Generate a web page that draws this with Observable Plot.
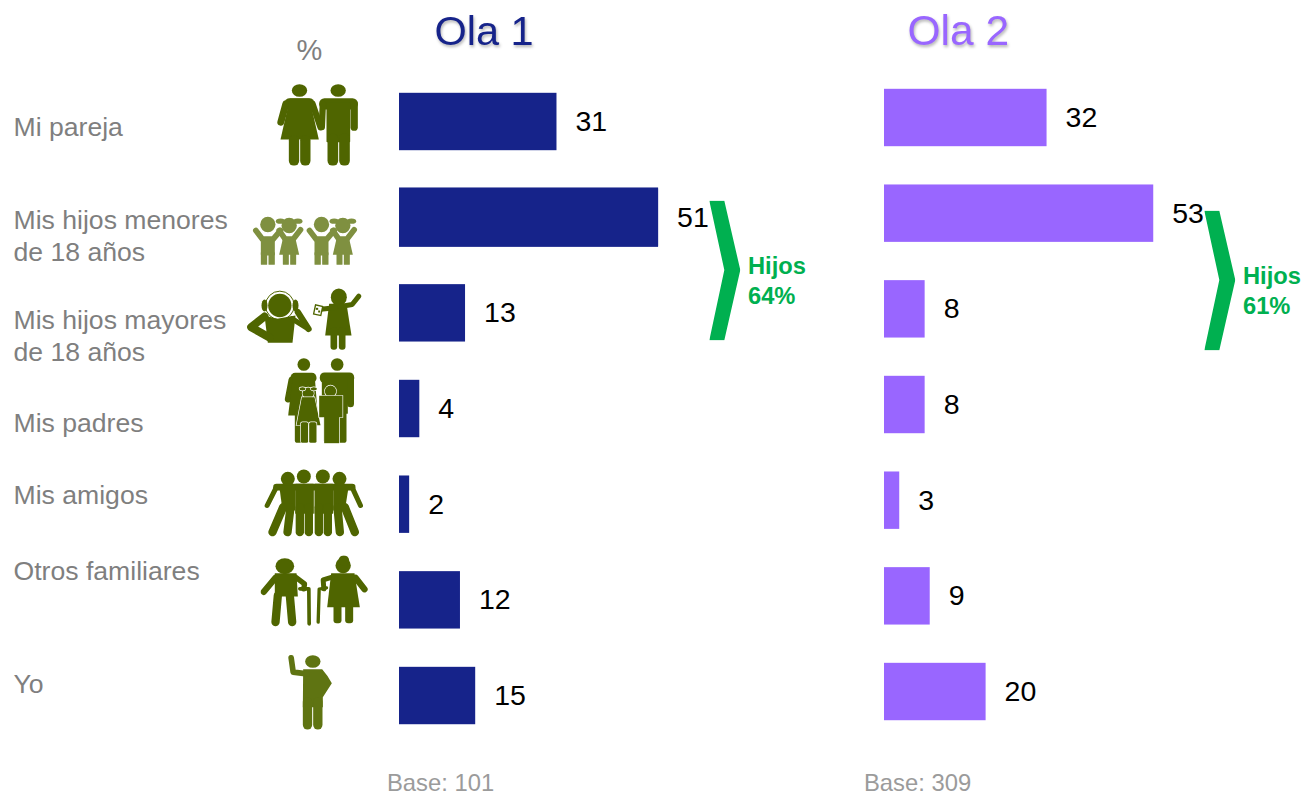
<!DOCTYPE html>
<html lang="es">
<head>
<meta charset="utf-8">
<script src="https://cdn.jsdelivr.net/npm/d3@7"></script>
<script src="https://cdn.jsdelivr.net/npm/@observablehq/plot@0.6"></script>
<style>
  html, body { margin: 0; padding: 0; background: #fff; }
  svg { display: block; }
  .title-shadow { filter: drop-shadow(1.5px 2px 1.5px rgba(0,0,0,.3)); }
</style>
</head>
<body>
<div id="chart"></div>
<script>
// ---- data ----
const categories = ["Mi pareja", "Mis hijos menores", "Mis hijos mayores", "Mis padres", "Mis amigos", "Otros familiares", "Yo"];
const rowLabels = ["Mi pareja", "Mis hijos menores\nde 18 años", "Mis hijos mayores\nde 18 años", "Mis padres", "Mis amigos", "Otros familiares", "Yo"];
const rowLabelShift = [3.5, 17.3, 21.7, 12.5, -10.7, -30.3, -13.5];
const ola1 = [31, 51, 13, 4, 2, 12, 15];
const ola2 = [32, 53, 8, 8, 3, 9, 20];
const hijosOla1 = "Hijos\n64%";
const hijosOla2 = "Hijos\n61%";
const base1 = "Base: 101";
const base2 = "Base: 309";

// ---- palette & layout ----
const navy = "#16238a", purple = "#9966ff", green = "#00b050", grey = "#7f7f7f", lightGrey = "#9b9b9b";
const olive = "#4f6500", oliveLight = "#7f9040", oliveMid = "#5f7412";
const panelShift = 485, panelRise = -4;
const pxZero = 399, pxPerUnit = 5.08;
const pxX = v => pxZero + pxPerUnit * v;
const rowY = i => 121.5 + 95.67 * i;
const font = "'Liberation Sans', Arial, sans-serif";

// ---- pictogram helpers (coordinates are in a 3x working grid) ----
const C = (x, y, r) => `<circle cx="${x}" cy="${y}" r="${r}"/>`;
const E = (x, y, rx, ry) => `<ellipse cx="${x}" cy="${y}" rx="${rx}" ry="${ry}"/>`;
const P = d => `<path d="${d}"/>`;
const L = (pts, w) => `<polyline points="${pts}" fill="none" stroke-width="${w}" stroke-linecap="round" stroke-linejoin="round"/>`;
const R = (x, y, w, h, r = 8) => `<rect x="${x}" y="${y}" width="${w}" height="${h}" rx="${r}"/>`;
const W = s => `<g stroke="#fff" stroke-width="4" paint-order="stroke">${s}</g>`;
const svgUri = (vb, color, body) => "data:image/svg+xml," + encodeURIComponent(
  `<svg xmlns="http://www.w3.org/2000/svg" viewBox="${vb[0]} ${vb[1]} ${vb[2] - vb[0]} ${vb[3] - vb[1]}" fill="${color}" stroke="${color}" stroke-width="0">${body}</svg>`);

const kidPair = s =>
  C(82 + s, 462, 23) + L(`${46 + s},480 ${66 + s},506 ${98 + s},506 ${120 + s},480`, 17) +
  R(61 + s, 500, 42, 55, 3) + R(61 + s, 545, 19, 38, 2) + R(84 + s, 545, 19, 38, 2) +
  C(146 + s, 465, 23) + E(120 + s, 452, 14, 8) + E(172 + s, 452, 14, 8) +
  L(`${116 + s},480 ${134 + s},506 ${158 + s},506 ${180 + s},478`, 17) +
  P(`M${128 + s} 500H${164 + s}L${176 + s} 553H${116 + s}Z`) + R(127 + s, 545, 18, 38, 2) + R(149 + s, 545, 18, 38, 2);

const icons = [
  { cat: 0, off: [240, 70], vb: [100, 35, 360, 290], color: olive, body:
    E(177, 60, 23, 19) + R(133, 83, 88, 30, 14) + L("136,100 121,155", 21) + L("216,100 240,170", 19) +
    P("M148 84H207L235 207H120Z") + R(145, 195, 31, 90, 14) + R(179, 195, 31, 90, 14) +
    E(293, 60, 23, 19) + R(236, 83, 116, 34, 16) + L("247,100 244,170", 19) + L("341,100 341,170", 22) +
    R(258, 95, 71, 120, 2) + R(261, 190, 32, 95, 14) + R(296, 190, 32, 95, 14) },
  { cat: 1, off: [240, 70], vb: [35, 435, 355, 585], color: oliveLight, body: kidPair(0) + kidPair(161) },
  { cat: 2, off: [240, 70], vb: [15, 650, 365, 845], color: olive, body:
    C(118, 705, 35) + `<circle cx="118" cy="705" r="43" fill="none" stroke-width="3"/>` +
    E(72, 705, 9, 18) + E(165, 705, 9, 18) +
    P("M72 735L110 745L165 735L156 817H82Z") + L("72,738 32,770 88,802", 24) + L("172,725 204,775", 19) + L("155,745 198,772", 16) +
    E(295, 680, 24, 26) + P("M266 700H318L333 795H254Z") + R(270, 770, 20, 68, 9) + R(295, 770, 20, 68, 9) +
    L("300,708 335,702 355,677", 15) + L("285,712 240,716", 15) +
    `<rect x="222" y="705" width="22" height="28" transform="rotate(12 232 719)" fill="#fff" stroke-width="4"/>` + R(226, 712, 7, 6, 0) + R(233, 720, 6, 6, 0) },
  { cat: 3, off: [240, 350], vb: [130, 20, 345, 280], color: olive, body:
    C(190, 42, 19) + C(290, 42, 19) + R(150, 67, 78, 30, 14) + L("154,88 143,146", 20) +
    P("M158 70H222L232 195H143Z") + R(163, 180, 26, 97, 8) +
    R(238, 66, 103, 32, 14) + L("330,85 330,160", 21) + R(244, 80, 78, 110, 2) + R(250, 180, 34, 97, 8) + R(288, 180, 30, 97, 8) +
    W(C(203, 128, 17) + E(186, 115, 9, 5) + E(220, 115, 9, 5) + P("M184 140H222L240 224H168Z") + R(181, 215, 22, 62, 5) + R(206, 215, 22, 62, 5) +
      C(270, 122, 17) + P("M236 136H306V200H296V278H251V200H236Z")) },
  { cat: 4, off: [240, 350], vb: [70, 355, 370, 560], color: olive, body:
    C(142, 385, 21) + C(190, 378, 21) + C(247, 378, 21) + C(297, 385, 21) +
    L("108,410 335,410", 20) + L("105,415 80,465", 15) + L("337,415 360,465", 15) +
    P("M116 405H164V480H126Z") + L("128,470 96,545", 25) + L("150,470 141,545", 25) +
    R(164, 400, 56, 90, 2) + L("178,470 178,545", 25) + L("205,470 205,545", 25) +
    R(222, 400, 56, 90, 2) + L("235,470 235,545", 25) + L("262,470 262,545", 25) +
    P("M278 405H325L313 480H278Z") + L("291,470 298,545", 25) + L("313,470 343,545", 25) },
  { cat: 5, off: [240, 350], vb: [60, 615, 385, 830], color: olive, body:
    E(133, 647, 28, 24) + P("M103 668H168L172 738H103Z") + L("112,735 105,815", 25) + L("148,735 155,815", 25) +
    L("105,682 70,724", 19) + L("165,680 192,700 190,715", 16) + L("178,715 205,715 206,820", 11) +
    C(308, 645, 23) + C(310, 630, 16) + P("M272 668H342L358 770H260Z") + L("345,682 372,716", 19) +
    L("275,680 248,688 250,715", 15) + L("258,712 236,716 233,815", 10) + R(279, 760, 24, 58, 9) + R(314, 760, 24, 58, 9) },
  { cat: 6, off: [240, 350], vb: [135, 910, 280, 1140], color: oliveMid, body:
    E(217, 933, 23, 19) + P("M188 956H245Q262 975 274 998L247 1040V1070H187Z") + L("152,922 158,965 200,970", 17) +
    R(187, 1040, 28, 97, 14) + R(218, 1040, 28, 97, 14) }
];

const chevronSrc = svgUri([0, 0, 31, 140], green, `<polygon points="0,0.3 15,0.3 31,69.5 15,139.7 0,139.7 15,69.5"/>`);

// ---- marks ----
const iconColumn = -16;
const iconMarks = icons.map(ic => {
  const [a, b, c, d] = ic.vb;
  const cx = ic.off[0] + (a + c) / 6, cy = ic.off[1] + (b + d) / 6;
  return Plot.image([categories[ic.cat]], {
    x: () => iconColumn, y: d => d,
    src: svgUri(ic.vb, ic.color, ic.body),
    width: (c - a) / 3, height: (d - b) / 3,
    dx: cx - pxX(iconColumn), dy: cy - rowY(ic.cat)
  });
});

const labelMarks = rowLabels.map((t, i) => Plot.text([t], {
  x: () => (14 - pxZero) / pxPerUnit, y: () => categories[i], text: d => d,
  textAnchor: "start", dx: -1, dy: rowLabelShift[i], fontSize: 26.6, lineHeight: 32 / 26.6,
  fill: grey, fontFamily: font
}));

const rows = v => v.map((value, i) => ({ cat: categories[i], value }));

function panel(values, color, shift, rise, tallRow) {
  const data = rows(values);
  return [
    Plot.barX(data, { x: "value", y: "cat", fill: color, dx: shift, dy: rise }),
    ...(tallRow ? [Plot.barX(data.filter(d => d.cat === tallRow), { x: "value", y: "cat", fill: color, dx: shift, dy: rise, insetTop: -1, insetBottom: -1 })] : []),
    Plot.text(data, { x: "value", y: "cat", text: d => String(d.value), textAnchor: "start",
      dx: shift + 18.5, dy: rise, fontSize: 28.5, fill: "#000", fontFamily: font })
  ];
}

const plot = Plot.plot({
  width: 1304, height: 796,
  margin: 0,
  style: { background: "#fff", fontFamily: font },
  x: { domain: [0, 100], range: [pxX(0), pxX(100)], axis: null },
  y: { type: "band", domain: categories, range: [rowY(0) - 47.835, rowY(6) + 47.835],
       paddingInner: 0.4, paddingOuter: 0.2, round: false, axis: null },
  marks: [
    ...panel(ola1, navy, 0, 0, "Mis hijos menores"),
    ...panel(ola2, purple, panelShift, panelRise),
    ...iconMarks,
    ...labelMarks,
    // chevrons
    Plot.image(["Mis hijos mayores"], { x: () => 64, y: d => d, src: chevronSrc, width: 31, height: 140, dx: 0.2, dy: -42.8 }),
    Plot.image(["Mis hijos mayores"], { x: () => 64, y: d => d, src: chevronSrc, width: 31, height: 140, dx: 495.2, dy: -32.8 }),
    Plot.text([hijosOla1], { x: () => 64, y: () => "Mis hijos mayores", text: d => d, textAnchor: "start", dx: 747.5 - pxX(64), dy: -33.5,
      fontSize: 23.7, lineHeight: 30 / 23.7, fontWeight: "bold", fill: green, fontFamily: font }),
    Plot.text([hijosOla2], { x: () => 64, y: () => "Mis hijos mayores", text: d => d, textAnchor: "start", dx: 1242.5 - pxX(64), dy: -23.5,
      fontSize: 23.7, lineHeight: 30 / 23.7, fontWeight: "bold", fill: green, fontFamily: font }),
    // titles
    Plot.text(["Ola 1"], { x: () => 0, y: () => categories[0], text: d => d, textAnchor: "start", dx: 434 - pxZero, dy: 31 - rowY(0),
      fontSize: 41.5, fill: navy, fontFamily: font, className: "title-shadow" }),
    Plot.text(["Ola 2"], { x: () => 0, y: () => categories[0], text: d => d, textAnchor: "start", dx: 907 - pxZero, dy: 31 - rowY(0),
      fontSize: 42.5, fill: purple, fontFamily: font, className: "title-shadow" }),
    Plot.text(["%"], { x: () => 0, y: () => categories[0], text: d => d, textAnchor: "middle", dx: 309 - pxZero, dy: 50 - rowY(0),
      fontSize: 29, fill: grey, fontFamily: font }),
    // bases
    Plot.text([base1], { x: () => 0, y: () => categories[6], text: d => d, textAnchor: "start", dx: 386.5 - pxZero, dy: 783 - rowY(6),
      fontSize: 23.8, fill: lightGrey, fontFamily: font }),
    Plot.text([base2], { x: () => 0, y: () => categories[6], text: d => d, textAnchor: "start", dx: 863.5 - pxZero, dy: 783 - rowY(6),
      fontSize: 23.8, fill: lightGrey, fontFamily: font })
  ]
});
document.getElementById("chart").appendChild(plot);
</script>
</body>
</html>
